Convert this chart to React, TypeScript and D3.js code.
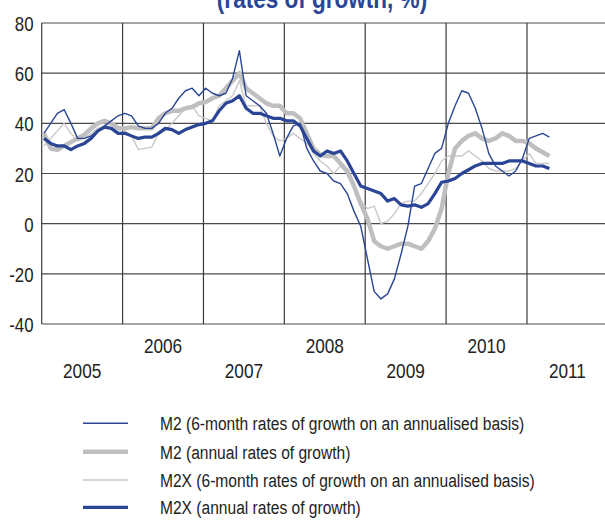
import React from 'react';
import * as d3 from 'd3';

// monthly values, Jan 2005 .. Apr 2011
const m2SixMonth = [
  36, 40, 44, 45.5, 40, 34, 34, 35, 37, 39, 41, 43,
  44, 43, 39, 38, 38, 40, 44, 46, 50, 53, 54, 51,
  54, 52, 51, 52, 58, 69, 51, 49, 47, 44, 36, 27,
  34, 39, 40, 30, 25, 21, 20, 17, 16, 12, 5, -1,
  -14, -27, -30, -28, -22, -12, -1, 15, 16, 22, 28, 30,
  40, 47, 53, 52, 46, 38, 28, 23, 21, 19, 21, 26,
  34, 35, 36, 34.5,
];
const m2Annual = [
  36, 30, 29.5, 31, 32.5, 34, 35.5, 38, 40, 41, 40, 38,
  38, 38.5, 38, 38, 38, 42, 44, 45, 45, 46, 46.5, 48,
  48.5, 50, 51, 54, 57, 60, 54, 52, 50, 48, 47, 47,
  44, 44, 42, 36, 30, 27.5, 27, 27, 24, 21, 15, 8,
  2, -7, -9, -10, -9, -8, -8, -9, -10, -7, -2, 6,
  20, 30, 33, 35, 36, 34, 33, 34, 36, 35, 33, 33,
  32, 30, 28.5, 27,
];
const m2xSixMonth = [
  31, 34, 37, 40, 36, 33, 34, 36, 38, 39, 40, 39,
  37, 35, 29.5, 30, 30.5, 36, 37, 40, 43, 46, 47, 43,
  42, 41, 47, 49, 51, 57, 47, 47, 47, 40, 35, 33,
  34, 36, 34, 32, 28, 25, 23, 20, 23, 20, 14, 9,
  6, 7, 0, 1, 4, 8, 9, 9, 12, 16, 20, 25,
  27, 27, 27, 29, 27, 25, 22, 21, 21, 21, 22, 25,
  28, 24, 24, 24,
];
const m2xAnnual = [
  34, 32, 31, 31, 29.5, 31, 32, 34, 37, 38.5, 38, 36,
  36, 35, 34, 34.5, 34.5, 36, 38, 37.5, 36, 37.5, 38.5, 39.5,
  40, 41, 45, 48, 49, 51, 46, 44, 44, 43, 42, 42,
  41, 41, 39, 34, 29, 27, 29, 28, 29, 25, 20, 15,
  14, 13, 12, 9, 10, 7.5, 7, 7.5, 6.5, 8, 12, 16.5,
  17, 18, 20, 21.5, 23, 24, 24, 24, 24, 25, 25, 25,
  24, 23, 23, 22,
];

const years = ['2005', '2006', '2007', '2008', '2009', '2010', '2011'];
const yTicks = [-40, -20, 0, 20, 40, 60, 80];
const legendLabels = [
  'M2 (6-month rates of growth on an annualised basis)',
  'M2 (annual rates of growth)',
  'M2X (6-month rates of growth on an annualised basis)',
  'M2X (annual rates of growth)',
];

const BLUE = '#2a4596';
const GREY = '#bfbfbf';
const LIGHT = '#c9c9c9';
const FONT = '"Liberation Sans", Arial, sans-serif';
const SQUEEZE = 0.82; // condensed look

const W = 605;
const H = 520;
const left = 41.7;
const top = 23;
const bottom = 324;

const Narrow: React.FC<{ x: number; y: number; size: number; anchor?: string; fill?: string; bold?: boolean; children: React.ReactNode }> =
  ({ x, y, size, anchor = 'start', fill = '#222', bold = false, children }) => (
    <text
      transform={`translate(${x},${y}) scale(${SQUEEZE},1)`}
      textAnchor={anchor}
      fontSize={size}
      fontWeight={bold ? 'bold' : 'normal'}
      fill={fill}
    >
      {children}
    </text>
  );

const App: React.FC = () => {
  const x = d3.scaleLinear().domain([0, 84]).range([left, left + 84 * 6.74]);
  const y = d3.scaleLinear().domain([-40, 80]).range([bottom, top]);
  const line = d3.line<number>()
    .x((_, i) => x(i + 0.33))
    .y(d => y(d));

  const series = [
    { data: m2xSixMonth, color: LIGHT, width: 1.4 },
    { data: m2Annual, color: GREY, width: 4.5 },
    { data: m2SixMonth, color: BLUE, width: 1.4 },
    { data: m2xAnnual, color: BLUE, width: 3.2 },
  ];
  const legendStyles = [
    { color: BLUE, width: 1.5 },
    { color: GREY, width: 4.5 },
    { color: LIGHT, width: 1.5 },
    { color: BLUE, width: 3.2 },
  ];
  const legendY = [423.3, 451.7, 480, 507.3];
  const yearStarts = d3.range(0, 85, 12);

  return (
    <div style={{ position: 'absolute', left: 0, top: 0 }}>
      <svg width={W} height={H} style={{ display: 'block', background: '#fff' }} fontFamily={FONT}>
        <Narrow x={322} y={7.5} size={27.5} anchor="middle" fill={BLUE} bold>
          (rates of growth, %)
        </Narrow>

        {/* grid */}
        {yTicks.map(t => (
          <line key={'h' + t} x1={left} x2={W} y1={y(t)} y2={y(t)} stroke="#4a4a4a" strokeWidth={1.2} />
        ))}
        {yearStarts.map(m => (
          <line key={'v' + m} x1={x(m)} x2={x(m)} y1={top} y2={bottom} stroke="#3a3a3a" strokeWidth={1.2} />
        ))}

        {/* tick labels */}
        {yTicks.map(t => (
          <Narrow key={'yl' + t} x={33.5} y={y(t) + 8} size={20.5} anchor="end">{t}</Narrow>
        ))}
        {years.map((yr, i) => (
          <Narrow key={yr} x={x(i * 12 + 6)} y={i % 2 === 0 ? 378 : 353} size={21} anchor="middle">{yr}</Narrow>
        ))}

        {/* series */}
        {series.map((s, i) => (
          <path key={i} d={line(s.data) || ''} fill="none" stroke={s.color} strokeWidth={s.width} strokeLinejoin="round" />
        ))}

        {/* legend */}
        {legendLabels.map((lab, i) => (
          <g key={lab}>
            <line x1={83} x2={128} y1={legendY[i]} y2={legendY[i]} stroke={legendStyles[i].color} strokeWidth={legendStyles[i].width} />
            <Narrow x={160} y={legendY[i] + 7} size={19}>{lab}</Narrow>
          </g>
        ))}
      </svg>
    </div>
  );
};

export default App;
